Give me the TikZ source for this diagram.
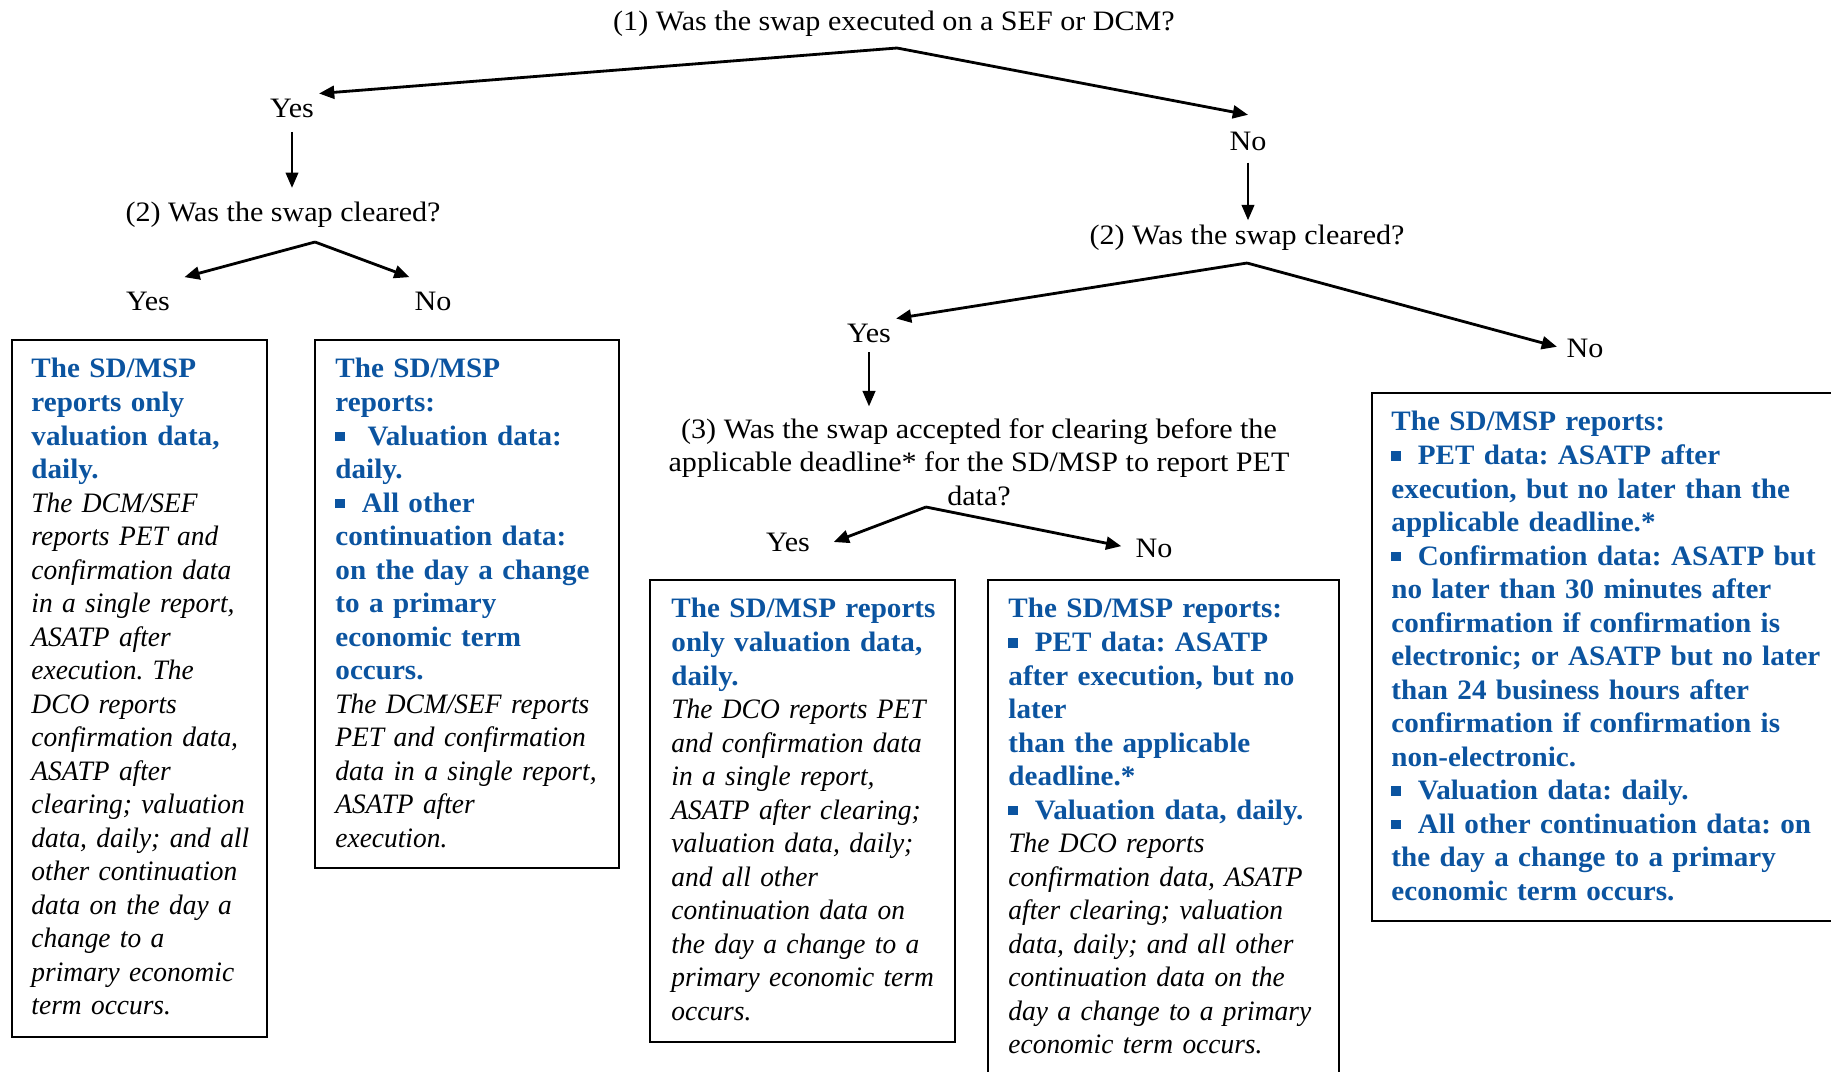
\documentclass[tikz,border=0pt]{standalone}
\usepackage{fontspec}
\setmainfont[UprightFeatures={FakeStretch=1.07},BoldFeatures={FakeStretch=1.035},
             ItalicFeatures={FakeStretch=0.975}]{Liberation Serif}
\usepackage{tikz}
\usetikzlibrary{arrows.meta,positioning,fit}

\definecolor{sdblue}{RGB}{11,84,160}
\newcommand{\sqb}{\rule[0.14em]{0.34em}{0.34em}\hspace{0.6em}}

\begin{document}
\frenchspacing
\begin{tikzpicture}[x=0.15mm,y=-0.15mm,->,>={Triangle[length=6.5pt,width=5.5pt]},
                    font=\fontsize{12}{14.3}\selectfont]
	\tikzstyle{lbl}=[inner sep=2pt]
	\tikzstyle{fork}=[line width=1.2pt]
	\tikzstyle{drop}=[line width=0.5pt]
	\tikzstyle{repbox}=[draw,line width=0.9pt,inner sep=0pt]
	\tikzstyle{reptext}=[anchor=north west,inner sep=0pt,text width=75mm,align=left]

	\clip (0,0) rectangle (1831,1071);

	% questions and answers
	\node[lbl] (q1)   at (894,24)  {(1) Was the swap executed on a SEF or DCM?};
	\node[lbl] (yes1) at (292,108) {Yes};
	\node[lbl] (no1)  at (1248,141) {No};
	\node[lbl] (q2a)  at (283,215) {(2) Was the swap cleared?};
	\node[lbl] (yes2a) at (148,301) {Yes};
	\node[lbl] (no2a)  at (433,301) {No};
	\node[lbl] (q2b)  at (1247,238) {(2) Was the swap cleared?};
	\node[lbl] (yes2b) at (869,333) {Yes};
	\node[lbl] (no2b)  at (1585,348) {No};
	\node[lbl,align=center] (q3) at (979,462)
		{(3) Was the swap accepted for clearing before the\\
		 applicable deadline* for the SD/MSP to report PET\\ data?};
	\node[lbl] (yes3) at (788,542) {Yes};
	\node[lbl] (no3)  at (1154,548) {No};

	\coordinate (q1s)  at (897,48);
	\coordinate (q2as) at (315,242);
	\coordinate (q2bs) at (1247,263);
	\coordinate (q3s)  at (926,507);

	% forks
	\draw[fork] (q1s) -- (yes1.north east);
	\draw[fork] (q1s) -- ([yshift=5pt]no1.north);
	\draw[fork] (q2as) -- ([xshift=4pt,yshift=4pt]yes2a.north east);
	\draw[fork] (q2as) -- ([yshift=4pt]no2a.north west);
	\draw[fork] (q2bs) -- (yes2b.north east);
	\draw[fork,shorten >=2pt] (q2bs) -- (no2b.west);
	\draw[fork] (q3s) -- ([xshift=8pt]yes3.east);
	\draw[fork,shorten >=4pt] (q3s) -- (no3.west);

	% drops
	\draw[drop,shorten <=4pt,shorten >=4pt] (yes1) -- (yes1 |- q2a.north);
	\draw[drop,shorten <=3pt] (no1) -- (no1 |- q2b.north);
	\draw[drop,shorten <=2pt,shorten >=3pt] (yes2b) -- (yes2b |- q3.north);

	% report boxes
	\node[repbox,fit={(12,340) (267,1037)}] (b1) {};
	\node[repbox,fit={(315,340) (619,868)}] (b2) {};
	\node[repbox,fit={(650,580) (955,1042)}] (b3) {};
	\node[repbox,fit={(988,580) (1339,1090)}] (b4) {};
	\node[repbox,fit={(1372,393) (1850,921)}] (b5) {};

	\node[reptext] (t1) at (31,358) {{\color{sdblue}\bfseries The SD/MSP\\ reports only\\
		valuation data,\\ daily.}\\
		\itshape The DCM/SEF\\ reports PET and\\ confirmation data\\ in a single report,\\
		ASATP after\\ execution. The\\ DCO reports\\ confirmation data,\\ ASATP after\\
		clearing; valuation\\ data, daily; and all\\ other continuation\\ data on the day a\\
		change to a\\ primary economic\\ term occurs.};

	\node[reptext] (t2) at (335,358) {{\color{sdblue}\bfseries The SD/MSP\\ reports:\\
		\sqb\hspace{0.2em}Valuation data:\\ daily.\\ \sqb All other\\ continuation data:\\
		on the day a change\\ to a primary\\ economic term\\ occurs.}\\
		\itshape The DCM/SEF reports\\ PET and confirmation\\ data in a single report,\\
		ASATP after\\ execution.};

	\node[reptext] (t3) at (671,598) {{\color{sdblue}\bfseries The SD/MSP reports\\
		only valuation data,\\ daily.}\\
		\itshape The DCO reports PET\\ and confirmation data\\ in a single report,\\
		ASATP after clearing;\\ valuation data, daily;\\ and all other\\
		continuation data on\\ the day a change to a\\ primary economic term\\ occurs.};

	\node[reptext] (t4) at (1008,598) {{\color{sdblue}\bfseries The SD/MSP reports:\\
		\sqb PET data: ASATP\\ after execution, but no\\ later\\ than the applicable\\
		deadline.*\\ \sqb Valuation data, daily.}\\
		\itshape The DCO reports\\ confirmation data, ASATP\\ after clearing; valuation\\
		data, daily; and all other\\ continuation data on the\\ day a change to a primary\\
		economic term occurs.};

	\node[reptext] (t5) at (1391,411) {\color{sdblue}\bfseries The SD/MSP reports:\\
		\sqb PET data: ASATP after\\ execution, but no later than the\\ applicable deadline.*\\
		\sqb Confirmation data: ASATP but\\ no later than 30 minutes after\\
		confirmation if confirmation is\\ electronic; or ASATP but no later\\
		than 24 business hours after\\ confirmation if confirmation is\\ non-electronic.\\
		\sqb Valuation data: daily.\\ \sqb All other continuation data: on\\
		the day a change to a primary\\ economic term occurs.};
\end{tikzpicture}
\end{document}
